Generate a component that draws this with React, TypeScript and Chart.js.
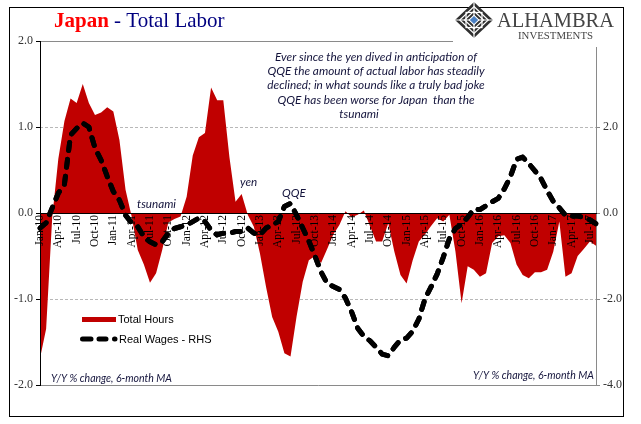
import React, { useEffect, useRef } from 'react';
import { Chart, registerables } from 'chart.js';
Chart.register(...registerables);

const MONTHS = ['Jan', 'Feb', 'Mar', 'Apr', 'May', 'Jun', 'Jul', 'Aug', 'Sep', 'Oct', 'Nov', 'Dec'];
const categories: string[] = [];
for (let yr = 10; yr <= 17; yr++) {
  for (let m = 0; m < 12; m++) {
    if (categories.length < 92) categories.push(`${MONTHS[m]}-${yr}`);
  }
}

// Total Hours, Y/Y % change, 6-month MA (left axis)
const totalHours = [
  -1.69, -1.35, -0.05, 0.63, 1.07, 1.33, 1.28, 1.5, 1.28, 1.14, 1.17, 1.23,
  1.18, 0.85, 0.27, -0.04, -0.43, -0.6, -0.81, -0.7, -0.43, -0.11, -0.07, -0.04,
  0.19, 0.67, 0.88, 0.93, 1.46, 1.31, 1.31, 0.65, 0.13, 0.22, -0.02, -0.16,
  -0.47, -0.86, -1.21, -1.38, -1.63, -1.67, -1.2, -0.8, -0.55, -0.5, -0.58, -0.42,
  -0.25, -0.14, 0.02, -0.05, -0.02, 0.03, -0.15, -0.33, -0.33, -0.12, -0.45, -0.72,
  -0.82, -0.55, -0.33, -0.25, -0.15, -0.06, -0.1, -0.02, -0.45, -1.05, -0.62, -0.66,
  -0.74, -0.7, -0.35, -0.27, -0.26, -0.35, -0.6, -0.72, -0.76, -0.69, -0.69, -0.66,
  -0.45, -0.1, -0.74, -0.7, -0.5, -0.42, -0.33, -0.38,
];

// Real Wages, Y/Y % change, 6-month MA (right axis)
const realWages = [
  -0.35, -0.23, 0.12, 0.46, 0.67, 1.81, 1.97, 2.09, 2.0, 1.51, 1.23, 0.85,
  0.5, 0.3, -0.05, -0.23, -0.32, -0.55, -0.67, -0.74, -0.67, -0.47, -0.36, -0.32,
  -0.28, -0.2, -0.12, -0.2, -0.4, -0.51, -0.47, -0.47, -0.43, -0.43, -0.35, -0.47,
  -0.51, -0.35, -0.28, -0.2, 0.15, 0.22, -0.05, -0.35, -0.65, -1.0, -1.37, -1.64,
  -1.71, -1.78, -1.98, -2.3, -2.68, -2.87, -2.97, -3.12, -3.28, -3.32, -3.12, -2.95,
  -2.91, -2.75, -2.47, -2.0, -1.72, -1.42, -1.03, -0.6, -0.36, -0.26, -0.1, 0.09,
  0.08, 0.17, 0.26, 0.34, 0.56, 0.85, 1.25, 1.3, 1.15, 0.98, 0.8, 0.52,
  0.27, 0.12, -0.05, -0.07, -0.07, -0.1, -0.16, -0.25,
];

const TITLE_A = 'Japan';
const TITLE_B = ' - Total Labor';
const NOTE_LINES = [
  'Ever since the yen dived in anticipation of',
  'QQE the amount of actual labor has steadily',
  'declined; in what sounds like a truly bad joke',
  'QQE has been worse for Japan  than the',
  'tsunami',
];
const UNITS = 'Y/Y % change, 6-month MA';

const SERIF = '"Liberation Serif", "Times New Roman", serif';
const SANS = '"Liberation Sans", Arial, sans-serif';
const CAL = 'Lato, "Open Sans", sans-serif';
const NAVY_TXT = '#14143c';

function fitText(
  ctx: CanvasRenderingContext2D, text: string, x: number, y: number,
  font: string, color: string, sx: number, align: CanvasTextAlign,
) {
  ctx.save();
  ctx.font = font;
  ctx.fillStyle = color;
  ctx.textBaseline = 'middle';
  ctx.textAlign = align;
  ctx.translate(x, y);
  ctx.scale(sx, 1);
  ctx.fillText(text, 0, 0);
  ctx.restore();
}

function widthScale(ctx: CanvasRenderingContext2D, text: string, font: string, target: number) {
  ctx.save();
  ctx.font = font;
  const w = ctx.measureText(text).width;
  ctx.restore();
  return w > 0 ? target / w : 1;
}

function diamond(ctx: CanvasRenderingContext2D, cx: number, cy: number, rx: number, ry: number) {
  ctx.beginPath();
  ctx.moveTo(cx, cy - ry);
  ctx.lineTo(cx + rx, cy);
  ctx.lineTo(cx, cy + ry);
  ctx.lineTo(cx - rx, cy);
  ctx.closePath();
}

function drawLogo(ctx: CanvasRenderingContext2D) {
  const cx = 474, cy = 20, rx = 19, ry = 18;
  ctx.save();
  diamond(ctx, cx, cy, rx, ry);
  ctx.fillStyle = '#2f2f2f';
  ctx.fill();
  ctx.strokeStyle = '#ffffff';
  ctx.lineWidth = 1.2;
  diamond(ctx, cx, cy, rx * 0.75, ry * 0.75);
  ctx.stroke();
  diamond(ctx, cx, cy, rx * 0.5, ry * 0.5);
  ctx.stroke();
  ctx.strokeRect(cx - rx * 0.42, cy - ry * 0.42, rx * 0.84, ry * 0.84);
  ctx.beginPath();
  ctx.moveTo(cx - rx, cy); ctx.lineTo(cx + rx, cy);
  ctx.moveTo(cx, cy - ry); ctx.lineTo(cx, cy + ry);
  ctx.stroke();
  diamond(ctx, cx, cy, rx * 0.3, ry * 0.3);
  ctx.fillStyle = '#ffffff';
  ctx.fill();
  diamond(ctx, cx, cy, rx * 0.22, ry * 0.22);
  ctx.fillStyle = '#4a80c4';
  ctx.fill();
  ctx.restore();

  const f1 = `22px ${SERIF}`;
  fitText(ctx, 'ALHAMBRA', 497, 21, f1, '#444444', widthScale(ctx, 'ALHAMBRA', f1, 117), 'left');
  const f2 = `10px ${SERIF}`;
  fitText(ctx, 'INVESTMENTS', 518, 36, f2, '#444444', widthScale(ctx, 'INVESTMENTS', f2, 75), 'left');
}

const decor = {
  id: 'decor',
  beforeDatasetsDraw(chart: any) {
    const { ctx, chartArea } = chart;
    const y = chart.scales.y;
    ctx.save();
    ctx.strokeStyle = '#b8b8b8';
    ctx.lineWidth = 1;
    ctx.setLineDash([3, 2]);
    for (const v of [1, -1]) {
      const py = Math.round(y.getPixelForValue(v)) + 0.5;
      ctx.beginPath();
      ctx.moveTo(chartArea.left, py);
      ctx.lineTo(chartArea.right, py);
      ctx.stroke();
    }
    ctx.setLineDash([]);
    ctx.strokeStyle = '#8a8a8a';
    const top = Math.round(chartArea.top) + 0.5;
    const bot = Math.round(chartArea.bottom) + 0.5;
    const right = Math.round(chartArea.right) + 0.5;
    ctx.beginPath();
    ctx.moveTo(chartArea.left, top); ctx.lineTo(453, top);
    ctx.moveTo(chartArea.left, bot); ctx.lineTo(right, bot);
    ctx.moveTo(right, 47); ctx.lineTo(right, bot);
    ctx.stroke();
    ctx.restore();
  },
  afterDraw(chart: any) {
    const ctx: CanvasRenderingContext2D = chart.ctx;
    const area = chart.chartArea;

    // put the wage line above the axis labels, as in the original
    const meta = chart.getDatasetMeta(1);
    ctx.save();
    ctx.beginPath();
    ctx.rect(area.left - 3, area.top - 3, area.right - area.left + 6, area.bottom - area.top + 6);
    ctx.clip();
    meta.controller.draw();
    ctx.restore();

    // outer frame
    ctx.save();
    ctx.strokeStyle = '#000';
    ctx.lineWidth = 1;
    ctx.strokeRect(9.5, 7.5, 614, 409);
    ctx.restore();

    // title
    ctx.save();
    ctx.textBaseline = 'alphabetic';
    ctx.font = `bold 21px ${SERIF}`;
    ctx.fillStyle = '#ff0000';
    ctx.fillText(TITLE_A, 54, 27);
    const wa = ctx.measureText(TITLE_A).width;
    ctx.font = `21px ${SERIF}`;
    ctx.fillStyle = '#000080';
    ctx.fillText(TITLE_B, 54 + wa, 27);
    ctx.restore();

    drawLogo(ctx);

    // note
    const nf = `italic 11px ${CAL}`;
    const s = widthScale(ctx, NOTE_LINES[0], nf, 202);
    const ys = [57.5, 71.7, 85.8, 100, 114.2];
    NOTE_LINES.forEach((t, i) => {
      fitText(ctx, t, i === 4 ? 359 : 376, ys[i], nf, NAVY_TXT, s, 'center');
    });

    // event labels
    const ef = `italic 12px ${CAL}`;
    const es = widthScale(ctx, 'tsunami', ef, 39);
    fitText(ctx, 'tsunami', 137, 204.5, ef, NAVY_TXT, es, 'left');
    fitText(ctx, 'yen', 240, 182, ef, NAVY_TXT, es, 'left');
    fitText(ctx, 'QQE', 282, 193.5, ef, NAVY_TXT, es, 'left');

    // units
    const uf = `italic 11px ${CAL}`;
    const us = widthScale(ctx, UNITS, uf, 121);
    fitText(ctx, UNITS, 51, 378, uf, NAVY_TXT, us, 'left');
    fitText(ctx, UNITS, 594, 375, uf, NAVY_TXT, us, 'right');

    // legend
    ctx.save();
    ctx.fillStyle = '#c00000';
    ctx.fillRect(82, 317, 34, 5);
    ctx.strokeStyle = '#000';
    ctx.lineWidth = 5;
    ctx.lineCap = 'round';
    ctx.beginPath();
    ctx.moveTo(82.5, 339); ctx.lineTo(91, 339);
    ctx.moveTo(99, 339); ctx.lineTo(106, 339);
    ctx.moveTo(114.5, 339); ctx.lineTo(115, 339);
    ctx.stroke();
    ctx.restore();
    fitText(ctx, 'Total Hours', 118, 319.5, `11px ${SANS}`, '#000', 1, 'left');
    fitText(ctx, 'Real Wages - RHS', 119, 339.5, `11px ${SANS}`, '#000', 1, 'left');
  },
};

export default function App() {
  const ref = useRef<HTMLCanvasElement>(null);
  useEffect(() => {
    const chart = new Chart(ref.current as HTMLCanvasElement, {
      type: 'line',
      data: {
        labels: categories,
        datasets: [
          {
            label: 'Total Hours',
            data: totalHours,
            yAxisID: 'y',
            fill: 'origin',
            backgroundColor: '#c00000',
            borderColor: '#c00000',
            borderWidth: 0,
            pointRadius: 0,
            tension: 0,
            order: 2,
          },
          {
            label: 'Real Wages - RHS',
            data: realWages,
            yAxisID: 'y1',
            fill: false,
            borderColor: '#000000',
            borderWidth: 5,
            borderDash: [8, 9],
            borderCapStyle: 'round',
            borderJoinStyle: 'round',
            pointRadius: 0,
            tension: 0,
            order: 1,
          },
        ],
      } as any,
      options: {
        responsive: false,
        animation: false,
        devicePixelRatio: 1,
        layout: { padding: { top: 41, bottom: 39, left: 0, right: 0 } },
        plugins: { legend: { display: false }, tooltip: { enabled: false }, title: { display: false } },
        scales: {
          x: {
            type: 'category',
            position: { y: 0 } as any,
            offset: false,
            grid: { display: false, drawTicks: false },
            border: { display: true, color: '#000', width: 1, z: 1 },
            ticks: {
              z: 1,
              autoSkip: false,
              maxRotation: 90,
              minRotation: 90,
              padding: 2,
              color: '#000',
              font: { family: SERIF, size: 11.5 },
              callback: (_v: any, i: number) => (i % 3 === 0 ? categories[i] : ''),
            },
          },
          y: {
            position: 'left',
            min: -2,
            max: 2,
            afterFit: (s: any) => { s.width = 40; },
            grid: { drawOnChartArea: false, drawTicks: true, tickLength: 4, tickColor: '#000', color: '#000', z: 1 },
            border: { display: true, color: '#000', width: 1, z: 1 },
            ticks: {
              stepSize: 1,
              padding: 3,
              color: '#333',
              font: { family: SERIF, size: 12 },
              callback: (v: any) => Number(v).toFixed(1),
            },
          },
          y1: {
            position: 'right',
            min: -4,
            max: 4,
            afterFit: (s: any) => { s.width = 45; },
            grid: { drawOnChartArea: false, drawTicks: true, tickLength: 4, tickColor: '#888', color: '#888' },
            border: { display: false },
            ticks: {
              stepSize: 2,
              padding: 3,
              color: '#333',
              font: { family: SERIF, size: 12 },
              callback: (v: any) => (Number(v) === 4 ? null : Number(v).toFixed(1)),
            },
          },
        },
      } as any,
      plugins: [decor],
    });
    return () => chart.destroy();
  }, []);
  return (
    <div style={{ position: 'absolute', left: 0, top: 0, width: 641, height: 424, background: '#fff' }}>
      <canvas ref={ref} width={641} height={424} style={{ display: 'block', width: 641, height: 424 }} />
    </div>
  );
}
